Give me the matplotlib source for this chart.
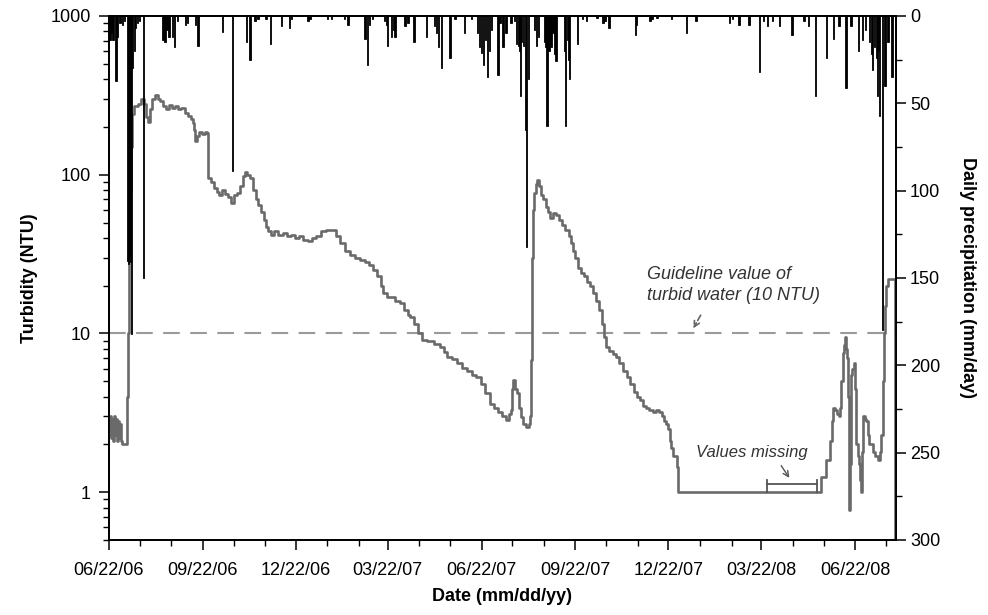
import pandas as pd
import matplotlib
matplotlib.use('Agg')
import matplotlib.pyplot as plt
import matplotlib.dates as mdates
from matplotlib.ticker import FixedLocator, LogLocator, NullFormatter, MultipleLocator

plt.rcParams['font.family'] = ['Liberation Sans', 'DejaVu Sans']

# start of record
start = pd.Timestamp('2006-06-22')
end_day = 771

# turbidity, days after 06/22/06 and NTU
turb_days = [0, 1, 2, 3, 4, 5, 6, 7, 8, 9, 10, 11, 12, 13, 17, 18, 19, 20, 21, 22, 23, 25, 28, 31, 34, 36, 38,
             40, 42, 45, 48, 50, 53, 56, 59, 62, 65, 68, 71, 74, 77, 80, 82, 83, 84, 86, 88, 91, 94, 96, 97,
             100, 103, 106, 108, 111, 114, 117, 120, 122, 125, 128, 131, 133, 135, 138, 141, 144, 146, 149,
             152, 154, 156, 159, 162, 166, 170, 174, 178, 182, 186, 190, 195, 199, 203, 208, 213, 218, 222,
             226, 231, 236, 241, 246, 251, 255, 259, 263, 266, 268, 272, 276, 280, 285, 289, 293, 295, 299,
             303, 307, 312, 318, 324, 328, 331, 336, 341, 346, 351, 356, 360, 364, 368, 373, 377, 381, 385,
             389, 392, 394, 395, 396, 398, 400, 402, 404, 406, 409, 411, 412, 413, 414, 415, 416, 418, 419,
             421, 423, 425, 428, 430, 432, 435, 438, 441, 444, 447, 451, 453, 455, 457, 459, 462, 465, 468,
             471, 474, 477, 480, 483, 485, 487, 490, 494, 497, 500, 504, 507, 510, 514, 517, 520, 523, 526,
             529, 533, 536, 539, 542, 544, 546, 548, 550, 551, 553, 556, 557, 694, 698, 702, 706, 708, 709,
             711, 713, 715, 716, 717, 719, 720, 721, 722, 723, 724, 725, 726, 727, 728, 730, 731, 732, 734,
             735, 736, 737, 738, 739, 741, 742, 744, 745, 748, 750, 753, 755, 756, 758, 759, 760, 761, 763,
             766, 769, 770]
turb_ntu = [2.3, 3.0, 2.2, 2.9, 2.1, 3.0, 2.3, 2.9, 2.1, 2.8, 2.2, 2.7, 2.1, 2.0, 2.0, 4.0, 10, 30, 80, 150, 240,
            270, 280, 300, 280, 230, 215, 260, 300, 320, 300, 290, 270, 260, 275, 265, 270, 260, 265, 245,
            235, 225, 212, 190, 162, 175, 185, 180, 185, 184, 95, 90, 82, 78, 74, 80, 76, 72, 66, 74, 77, 85,
            98, 104, 100, 95, 80, 70, 64, 58, 52, 47, 44, 42, 44, 42, 43, 41, 42, 40, 41, 39, 38, 40, 41, 44,
            45, 45, 41, 37, 33, 31, 30, 29, 28, 27, 25, 23, 20, 18, 17, 17, 16, 15.6, 14, 13, 12.7, 11.5, 10,
            9.1, 9.0, 8.6, 8.2, 7.6, 7.1, 6.9, 6.5, 6.1, 5.8, 5.5, 5.3, 4.8, 4.2, 3.6, 3.4, 3.2, 3.0, 2.85,
            3.1, 3.3, 4.5, 5.1, 4.5, 4.2, 3.4, 2.97, 2.7, 2.57, 2.7, 3.0, 6.8, 30, 60, 77, 88, 92, 85, 75, 70,
            63, 58, 53, 57, 56, 52, 48, 45, 41, 37, 33, 30, 26, 24, 23, 21, 20, 18, 16, 14, 11.5, 9.5, 8.2,
            7.8, 7.4, 7.1, 6.5, 5.8, 5.3, 4.8, 4.3, 4.0, 3.8, 3.5, 3.4, 3.3, 3.2, 3.3, 3.2, 3.0, 2.8, 2.7,
            2.5, 2.1, 1.9, 1.7, 1.44, 1.0, 1.0, 1.25, 1.6, 2.1, 2.8, 3.4, 3.3, 3.1, 3.0, 3.4, 5.0, 7.5, 8.5,
            9.5, 8.0, 7.0, 4.0, 0.77, 1.5, 5.5, 6.0, 6.5, 4.5, 2.0, 1.7, 1.5, 1.2, 1.0, 1.8, 3.0, 2.9, 2.8,
            2.3, 2.0, 1.8, 1.7, 1.6, 1.8, 2.3, 5.0, 10, 15, 20, 22, 22, 22, 0.4]

# daily precipitation, days after 06/22/06 and mm/day
rain_days = [1, 2, 4, 7, 8, 11, 13, 15, 18, 19, 20, 21, 22, 23, 25, 26, 28, 30, 34, 53, 55, 57, 59, 62, 64, 67,
             75, 77, 85, 87, 111, 121, 135, 138, 143, 146, 154, 158, 169, 177, 179, 195, 197, 214, 218, 231,
             234, 251, 253, 255, 258, 270, 272, 273, 277, 279, 280, 290, 293, 299, 311, 319, 321, 323, 326,
             334, 339, 348, 355, 361, 363, 365, 367, 369, 371, 373, 375, 381, 383, 386, 389, 394, 397, 399,
             401, 402, 403, 404, 406, 408, 409, 411, 417, 419, 421, 427, 428, 429, 431, 433, 435, 437, 438,
             446, 447, 449, 450, 451, 459, 464, 468, 478, 484, 486, 490, 516, 517, 530, 532, 537, 551, 566,
             575, 608, 611, 617, 627, 637, 641, 645, 650, 657, 669, 681, 685, 692, 703, 710, 715, 722, 727,
             734, 738, 741, 745, 747, 748, 750, 752, 753, 754, 755, 758, 760, 763, 767]
rain_mm = [14, 10, 14, 37, 12, 4, 5, 3, 140, 142, 138, 141, 182, 30, 20, 7, 4, 3, 150, 14, 15, 8, 12, 12, 18, 3,
           5, 4, 5, 17, 9, 89, 15, 25, 3, 2, 2, 16, 6, 7, 2, 3, 2, 1.5, 1.5, 1.5, 5, 13, 28, 5, 2, 3, 5, 17,
           12, 8, 12, 6, 4, 15, 12, 6, 10, 18, 30, 24, 2, 10, 1.5, 10, 18, 21, 28, 14, 35, 20, 8, 34, 4, 18,
           10, 4, 3, 16, 17, 20, 46, 15, 17, 65, 132, 36, 8, 17, 12, 15, 18, 63, 20, 18, 10, 22, 26, 20, 63,
           14, 25, 36, 16, 2, 3, 1, 4, 3, 7, 11, 5, 3, 2, 1, 2, 10, 3, 4, 2, 5, 5, 32, 3, 6, 3, 6, 11, 3, 6,
           46, 24, 13, 6, 41, 6, 20, 14, 8, 15, 22, 31, 18, 24, 46, 20, 57, 180, 40, 15, 35]

tick_dates = ['2006-06-22', '2006-09-22', '2006-12-22', '2007-03-22', '2007-06-22',
              '2007-09-22', '2007-12-22', '2008-03-22', '2008-06-22']

turb_dates = start + pd.to_timedelta(turb_days, unit='D')
rain_dates = start + pd.to_timedelta(rain_days, unit='D')

fig = plt.figure(figsize=(9.88, 6.15), dpi=100)
ax = fig.add_axes([0.1103, 0.122, 0.7966, 0.852])

line_grey = '#6a6a6a'
ax.plot(turb_dates, turb_ntu, color=line_grey, lw=1.9, drawstyle='steps-post', zorder=3)
ax.axhline(10, color='#9a9a9a', lw=1.5, dashes=(8, 5), zorder=2)

ax.set_yscale('log')
ax.set_ylim(0.5, 1000)
ax.yaxis.set_major_locator(FixedLocator([1, 10, 100, 1000]))
ax.set_yticklabels(['1', '10', '100', '1000'])
ax.yaxis.set_minor_locator(LogLocator(base=10, subs=range(2, 10)))
ax.yaxis.set_minor_formatter(NullFormatter())
ax.set_xlim(start, start + pd.Timedelta(days=end_day))
ax.xaxis.set_major_locator(FixedLocator(mdates.date2num(pd.to_datetime(tick_dates))))
ax.xaxis.set_major_formatter(mdates.DateFormatter('%m/%d/%y'))
ax.xaxis.set_minor_locator(mdates.MonthLocator(bymonthday=22))

ax.set_ylabel('Turbidity (NTU)', fontsize=13, fontweight='bold', labelpad=9)
ax.set_xlabel('Date (mm/dd/yy)', fontsize=13, fontweight='bold', labelpad=6)
ax.tick_params(axis='both', which='major', direction='out', length=7, width=1.1, labelsize=13)
ax.tick_params(axis='both', which='minor', direction='out', length=4, width=1.0)
ax.tick_params(axis='x', which='major', pad=9)
ax.tick_params(axis='y', which='major', pad=6)

# precipitation hanging from the top
ax2 = ax.twinx()
ax2.bar(rain_dates, rain_mm, width=1.4, color='black', edgecolor='black', linewidth=0.6, zorder=4)
ax2.set_ylim(300, 0)
ax2.yaxis.set_major_locator(MultipleLocator(50))
ax2.yaxis.set_minor_locator(MultipleLocator(25))
ax2.tick_params(axis='y', which='major', direction='out', length=7, width=1.1, labelsize=13, pad=3)
ax2.tick_params(axis='y', which='minor', direction='out', length=4, width=1.0)
ax2.set_ylabel('Daily precipitation (mm/day)', fontsize=13, fontweight='bold', rotation=270, labelpad=26)

for a in (ax, ax2):
    for s in a.spines.values():
        s.set_linewidth(1.3)

# annotations
ax.text(start + pd.Timedelta(days=527), 20.2, 'Guideline value of\nturbid water (10 NTU)',
        fontsize=13, style='italic', color='#333333', ha='left', va='center', linespacing=1.3, zorder=5)
ax.annotate('', xy=(start + pd.Timedelta(days=571), 10.4), xytext=(start + pd.Timedelta(days=581), 13.5),
            arrowprops=dict(arrowstyle='->', color='#666666', lw=1.2, linestyle='--'), zorder=5)

ax.text(start + pd.Timedelta(days=630), 1.79, 'Values missing', fontsize=12, style='italic',
        color='#333333', ha='center', va='center', zorder=5)
ax.annotate('', xy=(start + pd.Timedelta(days=668), 1.19), xytext=(start + pd.Timedelta(days=657), 1.52),
            arrowprops=dict(arrowstyle='->', color='#555555', lw=1.0), zorder=5)
gap0 = start + pd.Timedelta(days=645)
gap1 = start + pd.Timedelta(days=694)
ax.plot([gap0, gap1], [1.12, 1.12], color='#555555', lw=1.3, zorder=5)
ax.plot([gap0, gap0], [1.0, 1.2], color='#555555', lw=1.3, zorder=5)
ax.plot([gap1, gap1], [1.0, 1.2], color='#555555', lw=1.3, zorder=5)

fig.savefig('out.png', dpi=100)
